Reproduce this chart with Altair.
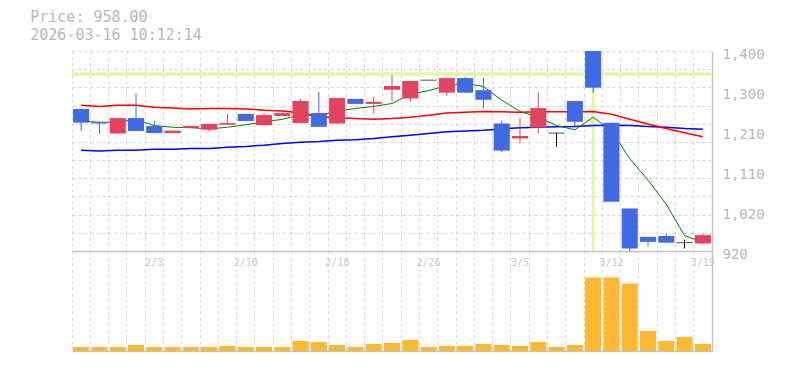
import altair as alt
import pandas as pd

# ---------------- data ----------------
dates = ["1/28", "1/29", "1/30", "2/2", "2/3", "2/4", "2/5", "2/6", "2/9", "2/10",
         "2/12", "2/13", "2/16", "2/17", "2/18", "2/19", "2/20", "2/24", "2/25", "2/26",
         "2/27", "3/2", "3/3", "3/4", "3/5", "3/6", "3/9", "3/10", "3/11", "3/12",
         "3/13", "3/16", "3/17", "3/18", "3/19"]
open_ = [1261, 1229, 1202, 1239, 1220, 1203, 1215, 1211, 1223, 1249,
         1222, 1244, 1227, 1251, 1226, 1285, 1273, 1307, 1286, 1330,
         1300, 1335, 1306, 1226, 1190, 1216, 1203, 1280, 1425, 1228,
         1022, 954, 956, 940, 938]
high = [1261, 1230, 1239, 1298, 1232, 1209, 1220, 1225, 1249, 1249,
        1251, 1251, 1285, 1302, 1287, 1285, 1290, 1342, 1328, 1330,
        1335, 1338, 1335, 1232, 1239, 1300, 1203, 1280, 1435, 1228,
        1022, 954, 962, 947, 962]
low = [1208, 1202, 1202, 1208, 1203, 1203, 1215, 1206, 1223, 1232,
       1222, 1244, 1227, 1218, 1226, 1273, 1250, 1280, 1278, 1330,
       1293, 1300, 1262, 1158, 1178, 1202, 1170, 1220, 1300, 1038,
       918, 930, 940, 926, 938]
close = [1228, 1226, 1239, 1208, 1203, 1209, 1220, 1225, 1227, 1232,
         1246, 1251, 1280, 1218, 1287, 1273, 1278, 1316, 1328, 1330,
         1335, 1300, 1283, 1161, 1196, 1263, 1203, 1230, 1312, 1038,
         926, 942, 940, 940, 958]
ma_short = [1232, 1229, 1229, 1236, 1221, 1217, 1216, 1213, 1217, 1223,
            1230, 1236, 1247, 1245, 1256, 1262, 1267, 1274, 1296, 1305,
            1317, 1322, 1315, 1282, 1255, 1241, 1221, 1211, 1241, 1209,
            1142, 1090, 1032, 957, 941]
ma_mid = [1270, 1267, 1270, 1270, 1265, 1263, 1261, 1262, 1262, 1261,
          1258, 1256, 1252, 1242, 1239, 1238, 1236, 1238, 1241, 1246,
          1251, 1253, 1255, 1254, 1253, 1254, 1254, 1254, 1255, 1248,
          1236, 1225, 1214, 1204, 1194]
ma_long = [1162, 1160, 1162, 1162, 1164, 1164, 1166, 1166, 1169, 1171,
           1174, 1178, 1181, 1183, 1186, 1187, 1190, 1194, 1198, 1202,
           1206, 1208, 1210, 1213, 1216, 1217, 1218, 1219, 1221, 1222,
           1221, 1219, 1217, 1214, 1212]
volume = [40000, 40000, 40000, 60000, 40000, 40000, 40000, 40000, 50000, 40000,
          40000, 40000, 100000, 90000, 60000, 40000, 70000, 80000, 110000, 40000,
          50000, 50000, 70000, 60000, 50000, 90000, 40000, 60000, 734000, 734000,
          674000, 200000, 100000, 140000, 70000]
tick_dates = ["2/3", "2/10", "2/18", "2/26", "3/5", "3/12", "3/19"]
cursor_date = ["3/11"]
cursor_price = [1345]
price_label_values = [1400, 1304, 1208, 1112, 1016, 920]
title_lines = ["Price: 958.00", "2026-03-16 10:12:14"]

# ---------------- styling ----------------
FONT = "DejaVu Sans Mono"
GRID = "#d6d6d6"
AXIS = "#c2c2c2"
TEXT = "#b8b8b8"
UP = "#e3435f"
DOWN = "#4169e1"

df = pd.DataFrame(dict(d=dates, o=open_, h=high, l=low, c=close,
                       s=ma_short, m=ma_mid, g=ma_long, v=volume))
df["dir"] = ["up" if c > o else ("down" if c < o else "flat") for o, c in zip(open_, close)]

xscale = alt.Scale(type="band", domain=dates, paddingInner=0, paddingOuter=0)
xaxis = alt.Axis(title=None, labels=False, ticks=False, grid=True, gridDash=[3, 3],
                 gridColor=GRID, gridWidth=1, bandPosition=0,
                 domainColor=AXIS, domainWidth=1.5)
X = alt.X("d:O", scale=xscale, axis=xaxis, sort=dates)

y_lo, y_hi = 920, 1400
yscale = alt.Scale(domain=[y_lo, y_hi], zero=False, nice=False)
grid_vals = [y_lo + k * (y_hi - y_lo) / 11 for k in range(12)]
color_scale = alt.Scale(domain=["up", "down", "flat"], range=[UP, DOWN, "#000000"])

base = alt.Chart(df)

cross_v = alt.Chart(pd.DataFrame({"d": cursor_date})).mark_rule(
    color="#e5f5a5", strokeWidth=3).encode(x=X)

cross_h = alt.Chart(pd.DataFrame({"p": cursor_price})).mark_rule(
    color="#e5f5a5", strokeWidth=3.5).encode(
    y=alt.Y("p:Q", scale=yscale,
            axis=alt.Axis(orient="left", values=grid_vals, grid=True, gridDash=[3, 3],
                          gridColor=GRID, labels=False, ticks=False, domain=False,
                          title=None)))

line_short = base.mark_line(color="#008000", strokeWidth=1).encode(
    x=X, y=alt.Y("s:Q", scale=yscale, axis=None))
line_mid = base.mark_line(color="#ff0000", strokeWidth=1.5).encode(
    x=X, y=alt.Y("m:Q", scale=yscale, axis=None))
line_long = base.mark_line(color="#0000ff", strokeWidth=1.5).encode(
    x=X, y=alt.Y("g:Q", scale=yscale, axis=None))

label_axis = alt.Axis(orient="right", values=price_label_values,
                      labelExpr="format(round(datum.value / 10) * 10, ',')",
                      title=None, grid=False, ticks=False, domain=True,
                      domainColor=AXIS, domainWidth=1.5, labelFont=FONT,
                      labelFontSize=14, labelColor=TEXT, labelPadding=10,
                      labelFlush=False, labelOverlap=False, labelOffset=3,
                      labelBaseline="middle")

wicks = base.mark_rule(strokeWidth=1, clip=True).encode(
    x=X, y=alt.Y("l:Q", scale=yscale, axis=label_axis), y2="h:Q",
    color=alt.Color("dir:N", scale=color_scale, legend=None))

bodies = base.transform_filter("datum.o != datum.c").mark_bar(
    width=alt.RelativeBandSize(0.88), clip=True).encode(
    x=X, y=alt.Y("o:Q", scale=yscale, axis=None), y2="c:Q",
    color=alt.Color("dir:N", scale=color_scale, legend=None))

dojis = base.transform_filter("datum.o == datum.c").mark_tick(
    orient="horizontal", thickness=1, size=16, color="#000000").encode(
    x=X, y=alt.Y("o:Q", scale=yscale, axis=None))

price = alt.layer(cross_v, cross_h, line_long, line_mid, line_short,
                  wicks, bodies, dojis).resolve_axis(y="independent").properties(
    width=640, height=200)

vol_bars = base.mark_bar(width=alt.RelativeBandSize(0.88), color="#ffb833").encode(
    x=X, y=alt.Y("v:Q", scale=alt.Scale(domain=[0, 1000000]),
                  axis=alt.Axis(orient="right", labels=False, ticks=False, grid=False,
                                domainColor=AXIS, domainWidth=1.5, title=None)))
vol_labels = alt.Chart(pd.DataFrame({"d": tick_dates})).mark_text(
    font=FONT, fontSize=10, color="#c8c8c8", baseline="middle").encode(
    x=X, y=alt.value(12), text="d:N")

vol = alt.layer(vol_bars, vol_labels).properties(width=640, height=100)

chart = alt.vconcat(price, vol, spacing=0, bounds="flush").properties(
    title=alt.TitleParams(text=title_lines, anchor="start", font=FONT, fontSize=15,
                          fontWeight="normal", color=TEXT, lineHeight=18, dx=-40,
                          offset=4),
    padding={"left": 22, "top": 2, "right": 10, "bottom": 5},
).configure_view(stroke=None)

chart.save("out.html", embed_options={"renderer": "svg", "actions": False})
